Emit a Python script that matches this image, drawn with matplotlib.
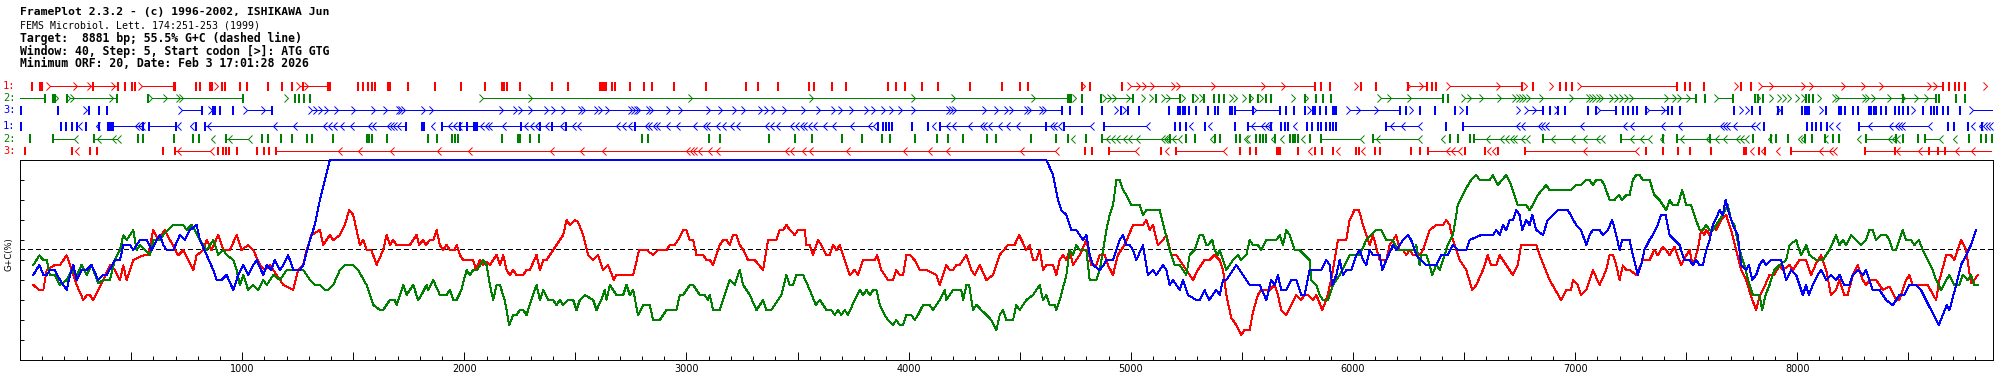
import matplotlib
matplotlib.use("Agg")
import matplotlib.pyplot as plt
from matplotlib.path import Path
from matplotlib.ticker import FixedLocator, MultipleLocator, FuncFormatter

SEQ_LEN = 8881
GC_MEAN = 55.5

header_lines = [
    ("FramePlot 2.3.2 - (c) 1996-2002, ISHIKAWA Jun", "bold", 8.2),
    ("FEMS Microbiol. Lett. 174:251-253 (1999)", "normal", 7.1),
    ("Target:  8881 bp; 55.5% G+C (dashed line)", "bold", 8.3),
    ("Window: 40, Step: 5, Start codon [>]: ATG GTG", "bold", 8.3),
    ("Minimum ORF: 20, Date: Feb 3 17:01:28 2026", "bold", 8.3),
]

# ---- ORF tracks (bp) ----
f1_stops = [53, 88, 95, 101, 329, 441, 473, 504, 518, 691, 698, 792, 808, 853, 862, 909, 923, 990, 1022,
            1116, 1179, 1224, 1274, 1388, 1395, 1521, 1544, 1566, 1584, 1598, 1658, 1665, 1747, 1868, 1985,
            2093, 2169, 2180, 2190, 2250, 2395, 2467, 2610, 2619, 2628, 2637, 2664, 2678, 2745, 2808, 2847,
            2943, 3090, 3267, 3320, 3410, 3552, 3574, 3657, 3720, 3907, 3945, 3983, 4058, 4130, 4275, 4418,
            4500, 4537, 4782, 4815, 4962, 5828, 5858, 5895, 6038, 6105, 6246, 6332, 6357, 6375, 6759, 6809,
            6930, 6960, 6987, 7458, 7493, 7515, 7578, 7748, 7793, 8655, 8685, 8708, 8730, 8757]
f1_starts = [135, 257, 320, 428, 549, 891, 1260, 1296, 4793, 5000, 5040, 5067, 5103, 5198, 5220, 5378, 5603,
             5693, 6021, 6255, 6314, 6435, 6660, 6782, 6899, 7025, 7731, 7839, 7889, 8033, 8069, 8213, 8303,
             8384, 8604, 8631, 8852]
f1_orfs = [(135, 441), (549, 691), (1260, 1388), (5000, 5828), (6255, 6332), (6435, 6759), (7025, 7458),
           (7839, 8655)]

f2_stops = [113, 147, 153, 158, 212, 437, 576, 1004, 1238, 1256, 1278, 1305, 4717, 4725, 4733, 4782, 4868,
            5010, 5115, 5220, 5280, 5329, 5373, 5397, 5418, 5538, 5572, 5607, 5633, 5783, 5835, 5865, 5903,
            6405, 6427, 7545, 7583, 7710, 7810, 7822, 7845, 8040, 8055, 8070, 8475, 8625, 8640, 8715, 8753]
f2_starts = [171, 225, 243, 419, 594, 662, 720, 734, 1206, 2084, 2304, 3024, 3569, 4028, 4208, 4568, 4755,
             4890, 4913, 4935, 4995, 5063, 5099, 5153, 5175, 5243, 5301, 5324, 5459, 5477, 5520, 5550, 5595,
             5738, 5796, 6128, 6173, 6263, 6503, 6533, 6585, 6668, 6735, 6750, 6765, 6780, 6795, 6855, 6990,
             7065, 7080, 7095, 7110, 7125, 7170, 7193, 7215, 7238, 7260, 7418, 7455, 7478, 7515, 7643, 7830,
             7890, 7928, 7950, 7973, 8010, 8033, 8108, 8175, 8190, 8310, 8325, 8348, 8423, 8483, 8543, 8588]
f2_orfs = [(0, 113), (225, 437), (594, 1004), (2084, 4717), (4890, 5010), (5153, 5220), (6128, 6405),
           (6503, 7545), (7643, 7710), (8175, 8625)]

f3_stops = [3, 172, 312, 356, 390, 818, 869, 878, 900, 960, 1133, 4692, 4728, 4782, 4872, 4958, 4987, 5037,
            5172, 5212, 5222, 5234, 5246, 5262, 5295, 5347, 5378, 5392, 5445, 5456, 5468, 5550, 5670, 5697,
            5733, 5783, 5820, 5828, 5850, 5880, 5910, 5918, 5925, 6210, 6240, 6300, 6368, 6458, 6513, 6855,
            6885, 6922, 6953, 7057, 7095, 7185, 7215, 7237, 7260, 7278, 7320, 7418, 7437, 7470, 7713, 7797,
            7830, 7914, 7932, 8022, 8033, 8042, 8052, 8130, 8187, 8199, 8213, 8253, 8272, 8322, 8334, 8345,
            8355, 8377, 8400, 8438, 8457, 8478, 8497, 8565, 8603, 8615, 8628, 8655, 8677, 8733]
f3_starts = [300, 728, 863, 1020, 1103, 1313, 1335, 1358, 1388, 1433, 1508, 1598, 1650, 1710, 1718, 1733,
             1823, 1860, 2175, 2235, 2258, 2303, 2378, 2408, 2453, 2528, 2543, 2603, 2618, 2652, 2753, 2768,
             2783, 2790, 2835, 2850, 2925, 2982, 3105, 3160, 3222, 3263, 3342, 3367, 3398, 3450, 3533, 3600,
             3668, 3698, 3750, 3818, 3848, 3893, 3930, 3968, 4028, 4185, 4200, 4215, 4350, 4403, 4448, 4470,
             4538, 4553, 4605, 4620, 4943, 4977, 5565, 5810, 5985, 6030, 6113, 6270, 6495, 6750, 6788, 6825,
             6923, 7110, 7332, 7403, 7755, 7782, 7920, 8118, 8528, 8790]
f3_orfs = [(728, 818), (1020, 1133), (1313, 4692), (5468, 5550), (5565, 5670), (5985, 6210), (6788, 6855),
           (7110, 7185), (7332, 7418), (8790, 8881)]

r1_stops = [3, 183, 207, 233, 257, 297, 357, 397, 405, 413, 420, 555, 581, 701, 792, 833, 1737, 1808, 1814,
            1818, 1898, 1980, 2010, 2043, 2051, 2058, 2253, 2340, 2393, 2457, 2768, 3862, 3885, 3897, 3911,
            3923, 4013, 4088, 4143, 4620, 4698, 4878, 5198, 5220, 5247, 5333, 5468, 5527, 5633, 5678, 5693,
            5708, 5793, 5817, 5842, 5855, 5877, 5895, 5910, 5925, 6150, 6417, 6495, 7848, 8043, 8065, 8085,
            8108, 8132, 8277, 8677, 8704, 8767, 8832]
r1_starts = [262, 342, 518, 532, 545, 708, 765, 843, 1140, 1230, 1365, 1387, 1410, 1440, 1485, 1567, 1583,
             1650, 1665, 1680, 1695, 1848, 1927, 1950, 1972, 2070, 2093, 2107, 2168, 2268, 2295, 2318, 2363,
             2430, 2483, 2505, 2685, 2708, 2737, 2813, 2827, 2850, 2865, 2910, 2955, 3030, 3075, 3090, 3135,
             3158, 3195, 3225, 3353, 3375, 3405, 3465, 3488, 3510, 3525, 3548, 3570, 3615, 3653, 3735, 3818,
             3840, 4103, 4170, 4193, 4268, 4320, 4335, 4358, 4403, 4440, 4485, 4635, 4650, 4673, 4815, 5070,
             5262, 5348, 5543, 5588, 5603, 5618, 5730, 6165, 6218, 6293, 6735, 6758, 6833, 6848, 6863, 7020,
             7215, 7245, 7388, 7463, 7650, 7665, 7680, 7710, 7793, 7815, 8145, 8175, 8318, 8415, 8438, 8453,
             8468, 8588, 8783, 8820, 8835, 8850, 8865]
r1_orfs = [(420, 545), (581, 701), (833, 1737), (1898, 3840), (4143, 4673), (4698, 4815), (4878, 5070),
           (5527, 5618), (6150, 6293), (6495, 7815), (8277, 8588)]

r2_stops = [45, 150, 334, 530, 552, 693, 777, 806, 927, 1088, 1118, 1173, 1223, 1290, 1313, 1410, 1560, 1571,
            1583, 1650, 1838, 1875, 1943, 1958, 1973, 2168, 2243, 2250, 2295, 2336, 2802, 2825, 3101, 3150,
            3371, 3488, 3565, 3698, 3788, 3878, 3915, 4028, 4128, 4178, 4245, 4353, 4395, 4553, 4662, 4717,
            4797, 4872, 5175, 5250, 5288, 5378, 5400, 5475, 5490, 5565, 5580, 5594, 5607, 5648, 5718, 5729,
            5738, 5752, 5808, 5858, 6090, 6435, 6473, 6528, 6543, 6855, 7208, 7395, 7458, 7605, 7800, 7883,
            7905, 7958, 8033, 8067, 8123, 8160, 8187, 8310, 8445, 8475, 8543, 8577, 8775, 8828, 8850, 8877]
r2_starts = [243, 345, 413, 435, 858, 938, 1028, 4733, 4890, 4913, 4935, 4965, 4988, 5025, 5138, 5148, 5160,
             5184, 5213, 5355, 5508, 5520, 5633, 5670, 5768, 6030, 6102, 6293, 6398, 6600, 6660, 6683, 6705,
             6720, 6758, 6780, 6893, 6983, 7035, 7095, 7118, 7245, 7290, 7328, 7380, 7470, 7590, 7628, 7665,
             7725, 7740, 7763, 7868, 8003, 8018, 8122, 8268, 8410, 8428, 8445, 8640, 8700]
r2_orfs = [(150, 243), (334, 435), (927, 1028), (4872, 5213), (5858, 6030), (6090, 6293), (6543, 6780),
           (6855, 7118), (7208, 7328), (7458, 7763), (8310, 8445), (8577, 8640)]

r3_stops = [23, 235, 315, 348, 645, 698, 892, 915, 927, 942, 978, 1065, 1098, 1122, 1152, 4793, 4827, 4902,
            5138, 5205, 5490, 5535, 5565, 5657, 5666, 5673, 5752, 5828, 5862, 5910, 6015, 6026, 6098, 6120,
            6260, 6300, 6337, 6503, 6593, 6652, 6773, 7320, 7395, 7463, 7515, 7610, 7758, 7770, 7827, 7853,
            7973, 8303, 8438, 8595, 8633, 8663]
r3_starts = [248, 705, 855, 1433, 1523, 1665, 1875, 2018, 2385, 2520, 2618, 3000, 3015, 3030, 3053, 3098,
             3135, 3443, 3465, 3518, 3552, 3720, 3975, 4088, 4170, 4500, 4658, 5018, 5153, 5415, 5798, 5925,
             6038, 6420, 6443, 6473, 6603, 6626, 7035, 7268, 7785, 7838, 7905, 8100, 8145, 8160, 8445, 8543,
             8708, 8783]
r3_orfs = [(698, 855), (1152, 4658), (4902, 5018), (5205, 5415), (6337, 6473), (6773, 7268), (7973, 8160),
           (8303, 8872)]

# ---- G+C curves (bp, %) ----
red_pos = [60, 87, 105, 120, 157, 180, 210, 225, 255, 285, 300, 315, 330, 352, 375, 405, 427, 450, 465, 480,
           510, 555, 577, 600, 622, 652, 675, 712, 735, 780, 795, 825, 840, 862, 892, 915, 945, 975, 997, 1027,
           1050, 1080, 1102, 1125, 1155, 1185, 1230, 1252, 1275, 1290, 1312, 1350, 1365, 1395, 1410, 1440,
           1462, 1482, 1500, 1530, 1545, 1560, 1582, 1605, 1635, 1650, 1665, 1680, 1695, 1710,
           1755, 1785, 1797, 1815, 1827, 1845, 1860, 1875, 1890, 1905, 1920, 1935, 1957, 1965, 1980, 1995,
           2040, 2052, 2070, 2085, 2100, 2115, 2145, 2160, 2175, 2190, 2205, 2220, 2235, 2265, 2280, 2295,
           2325, 2340, 2355, 2370, 2415, 2445, 2460, 2475, 2497, 2512, 2535, 2557, 2580, 2602, 2625, 2647,
           2673, 2685, 2760, 2787, 2820, 2850, 2872, 2910, 2925, 2947, 2962, 2985, 3000, 3015, 3030, 3045,
           3075, 3090, 3105, 3120, 3150, 3165, 3180, 3195, 3210, 3225, 3240, 3255, 3277, 3307, 3345, 3367,
           3405, 3420, 3435, 3450, 3465, 3487, 3502, 3532, 3540, 3555,
           3570, 3592, 3607, 3630, 3645, 3660, 3675, 3690, 3705, 3735, 3757, 3772, 3795, 3847, 3858, 3877,
           3907, 3930, 3945, 3960, 3975, 3990, 4005, 4027, 4050, 4080, 4125, 4140, 4170, 4185, 4200, 4215,
           4230, 4260, 4282, 4297, 4320, 4350, 4380, 4410, 4447, 4477, 4497, 4530, 4545, 4560, 4575, 4590,
           4605, 4620, 4650, 4665, 4680, 4695, 4710, 4725, 4740, 4770, 4800, 4822, 4845, 4860, 4882, 4897,
           4920, 4942, 4972, 5010, 5055, 5070, 5085, 5100, 5122, 5145, 5160, 5182, 5205, 5250, 5280, 5302, 5332,
           5355, 5377, 5400, 5415, 5430, 5452, 5475, 5497, 5512, 5535, 5550, 5572, 5587, 5625, 5647, 5662,
           5677, 5700, 5722, 5745, 5767, 5782, 5797, 5820, 5835, 5862, 5887, 5910, 5932, 5970, 5985, 6007,
           6027, 6045, 6067, 6075, 6090, 6120, 6150, 6165, 6195, 6210, 6225, 6240, 6255, 6270, 6300, 6315,
           6345, 6375, 6405, 6420, 6435, 6450, 6480, 6510, 6537, 6555, 6585, 6607, 6622, 6645, 6660, 6690,
           6720, 6742, 6757, 6825, 6840, 6885, 6937, 6960, 6982, 6990, 7012, 7027, 7050, 7080, 7110, 7140,
           7155, 7170,
           7185, 7200, 7215, 7230, 7245, 7275, 7305, 7335, 7357, 7372, 7395, 7410, 7425, 7447, 7477, 7500,
           7515, 7530, 7552, 7567, 7582, 7590, 7605, 7620, 7635, 7657, 7680, 7702, 7725, 7747, 7770, 7792,
           7815, 7830, 7852, 7875, 7897, 7920, 7935, 7965, 7980, 8010, 8040, 8062, 8085, 8107, 8130, 8152,
           8175, 8190, 8212, 8227, 8250, 8272, 8295, 8310, 8325, 8355, 8385, 8415, 8445, 8460, 8490, 8505,
           8520, 8587, 8625, 8640, 8670, 8692, 8707, 8737, 8760, 8782, 8797, 8812]
red_gc = [37.5, 35, 35, 45, 47.5, 47.5, 52.3, 47.5, 37.5, 30, 32.3, 32.3, 30, 35, 40, 47.3, 45, 40, 47.3, 40,
          50, 52.3, 52.3, 65, 60, 65, 60, 52.3, 55, 45, 52.3, 55, 60, 55, 62.5, 55, 55, 62.5, 55, 57.5,
          55, 47.5, 45, 47.5, 42.5, 37.5, 35, 45, 47.5, 55, 62.5, 65, 57.5, 62.5, 60, 62.5,
          67.5, 75, 72.5, 57.5, 60, 55, 55, 47.5, 55, 62.5, 57.5, 60, 57.5, 57.5,
          57.5, 62.5, 57.5, 60, 57.5, 60, 60, 65, 57.5, 55, 57.5, 55, 55, 57.5, 52.5, 50,
          50, 45, 50, 47.5, 49, 47.5, 52.5, 47.5, 52.5, 45, 42.5, 45, 42.5, 42.5, 45, 45,
          52.5, 45, 50, 50, 57.5, 62.5, 70, 67.5, 70, 69, 62.5, 52.5, 50, 52.5, 45, 47.5,
          40, 42.5, 42.5, 55, 55, 52.5, 55, 55, 57.5, 57.5, 60, 65, 65, 60, 60, 52.5,
          52.5, 50, 50, 47.5, 57.5, 60, 60, 57.5, 62.5, 62.5, 57.5, 55, 50, 50, 45, 60,
          60, 65, 65, 67.5, 65, 62.5, 65, 65, 57.5, 57.5,
          52.5, 60, 57.5, 52.5, 52.5, 57.5, 55, 57.5, 52.5, 42.5, 45, 42.5, 50, 50, 52.5, 45,
          40, 40, 45, 42.5, 42.5, 52.5, 52.5, 50, 45, 45, 42.5, 37.5, 47.5, 45, 45, 47.5,
          47.5, 52.5, 45, 42.5, 47.5, 40, 42.5, 52.5, 57.5, 57.5, 62.5, 55, 57.5, 50, 50, 55,
          45, 47.5, 47.5, 42.5, 50, 52.5, 50, 55, 47.5, 52.5, 60, 47.5, 47.5, 52.5, 52.5, 47.5,
          42.5, 52.5, 57.5, 67.5, 67.5, 70, 65, 67.5, 57.5, 60, 62.5, 52.5, 52.5, 45, 40, 45, 50,
          50, 52.5, 50, 45, 32.5, 21, 17.5, 12.5, 15, 15, 24, 32.5, 35, 35, 37.5, 32.5,
          25, 22.5, 27.5, 32.5, 30, 32.5, 32.5, 30, 32.5, 25, 32.5, 45, 60, 60, 70, 75,
          75, 67.5, 60, 57.5, 62.5, 50, 50, 57.5, 62.5, 55, 55, 52.5, 55, 52.5, 52.5, 55,
          65, 67.5, 67.5, 70, 67.5, 60, 50, 45, 35, 37.5, 45, 52.5, 47.5, 47.5, 52.5, 47.5,
          42.5, 47.5, 57.5, 57.5, 52.5, 40, 30, 35, 35, 40, 37.5, 32.5, 35, 45, 37.5, 45,
          52.5, 52.5,
          47.5, 40, 47.3, 45, 45, 42.5, 50, 50, 55, 52.3, 56.7, 55, 52.3, 56.7, 47.3, 52.3,
          55, 47.3, 55, 65, 62.5, 65, 62.5, 67.5, 65, 70, 72.5, 65, 55, 45, 40, 31.7,
          25, 31.7, 36.7, 42.5, 42.5, 47.5, 45, 47.5, 45, 50, 50, 42.5, 48.3, 52.3, 45, 32.5,
          35, 40, 32.5, 32.5, 42.5, 47.5, 40, 37.5, 40, 40, 35, 36.7, 30, 30, 40, 42.5,
          37.5, 37.5, 30, 40, 52.3, 52.3, 50, 60, 55, 38.3, 40, 42.5]

green_pos = [60, 87, 105, 120, 135, 157, 180, 210, 232, 255, 277, 300, 322, 352, 375, 405, 427, 450, 465, 480,
             495, 510, 525, 540, 562, 585, 600, 630, 645, 690, 735, 750, 772, 787, 810, 840, 870, 892, 915,
             930, 960, 975, 990, 1005, 1027, 1050, 1072, 1095, 1110, 1140, 1170, 1200, 1245, 1275, 1305,
             1327, 1350, 1372, 1387, 1410, 1440, 1462, 1500, 1522, 1560, 1590, 1620, 1635, 1665, 1687, 1695,
             1725, 1740, 1770, 1792, 1807, 1830, 1837, 1860, 1890, 1920, 1935, 1950, 1965, 1987, 2010, 2025,
             2040, 2058, 2085, 2100, 2115, 2130, 2145, 2160, 2182, 2202, 2220, 2235, 2250, 2265, 2280, 2302,
             2325, 2340, 2355, 2377, 2400, 2415, 2430, 2445, 2467, 2490, 2505, 2520, 2542, 2580, 2595, 2617,
             2632, 2640, 2655, 2685, 2715, 2730, 2745, 2760, 2782, 2805, 2835, 2850, 2880, 2910, 2955, 2970,
             2985, 3015, 3030, 3060, 3082, 3097, 3105, 3120, 3150, 3165, 3195, 3217, 3240, 3255, 3285, 3315,
             3345, 3360, 3382, 3427, 3450, 3465, 3480, 3495, 3525,
             3555, 3582, 3600, 3630, 3652, 3667, 3682, 3697, 3712, 3727, 3757, 3780, 3795, 3810, 3825, 3840,
             3855, 3870, 3892, 3907, 3930, 3945, 3960, 3975, 3990, 4012, 4027, 4042, 4065, 4095, 4110, 4140,
             4162, 4170, 4200, 4237, 4245, 4260, 4272, 4290, 4305, 4327, 4350, 4372, 4395, 4410, 4425, 4440,
             4470, 4485, 4500, 4530, 4560, 4590, 4605, 4620, 4635, 4657, 4665, 4680, 4710, 4725, 4740, 4755,
             4770, 4800, 4815, 4845, 4860, 4875, 4890, 4905, 4920, 4935, 4950, 4965, 4980, 5002, 5040, 5055,
             5070, 5130, 5152, 5175, 5197, 5220, 5250, 5265, 5287, 5310, 5325, 5340,
             5347, 5367, 5377, 5392, 5400, 5430, 5460, 5482, 5497, 5520, 5535, 5550, 5572, 5587, 5610, 5655,
             5670, 5685, 5700, 5715, 5737, 5760, 5782, 5805, 5812, 5835, 5850, 5865, 5887, 5910, 5940, 5985,
             6007, 6030, 6060, 6082, 6105, 6127, 6150, 6180, 6202, 6232, 6270, 6285, 6300, 6307, 6330, 6345,
             6357, 6375, 6390, 6412, 6427, 6450, 6472, 6510, 6532, 6555, 6570, 6615, 6630, 6652, 6690, 6712,
             6742, 6780, 6795, 6810, 6832, 6870, 6885, 6982, 7005, 7027, 7050, 7065, 7080, 7095, 7117, 7132,
             7155, 7177,
             7197, 7212, 7230, 7245, 7260, 7275, 7290, 7305, 7335, 7357, 7380, 7410, 7425, 7440, 7462, 7482,
             7500, 7522, 7537, 7560, 7575, 7590, 7605, 7620, 7635, 7650, 7665, 7687, 7702, 7717, 7740, 7762,
             7785, 7800, 7830, 7842, 7857, 7875, 7897, 7920, 7950, 7965, 7995, 8017, 8040, 8055, 8085, 8115,
             8145, 8175, 8190, 8205, 8220, 8242, 8265, 8287, 8310, 8325, 8340, 8355, 8377, 8400, 8415, 8430,
             8445, 8475, 8490, 8512, 8527, 8547, 8565, 8587, 8610, 8625, 8647, 8670, 8685, 8707, 8730, 8745,
             8767, 8782, 8797, 8812]
green_gc = [47.5, 52.3, 50, 50, 42.3, 42.3, 37.5, 40, 45, 42.5, 47.5, 42.5, 47.5, 38.3, 40, 40, 50, 55, 62.3, 60,
            62.5, 65, 55, 57.5, 55, 52.5, 60, 60, 62.5, 67.5, 67.5, 65, 67.5, 65, 60, 55, 60, 52.5, 55,
            52.5, 50, 45, 37.5, 42.5, 35, 37.5, 35, 40, 37.5, 42.5, 40, 45, 45, 45, 40,
            37.5, 37.5, 35, 35, 37.5, 45, 47.5, 47.5, 45, 37.5, 27.5, 25, 25, 30, 30, 27.5,
            37.5, 32.5, 37.5, 30, 32.5, 37.5, 35, 40, 32.5, 32.5, 35, 30, 30, 35, 45, 42.5,
            45, 45, 50, 47.5, 37.5, 30, 37.5, 37.5, 30, 17.5, 22.5, 22.5, 25, 25, 22.5, 30,
            37.5, 30, 35, 30, 30, 27.5, 30, 27.5, 30, 30, 25, 30, 32.5, 30, 25, 30,
            35, 30, 37.5, 32.5, 32.5, 37.5, 32.5, 35, 22.5, 27.5, 27.5, 20, 20, 25, 25, 32.5,
            32.5, 37.5, 37.5, 32.5, 32.5, 30, 32.5, 25, 25, 30, 40, 37.5, 45, 37.5, 32.5, 25,
            30, 25, 25, 32.5, 42.5, 37.5, 37.5, 42.5, 42.5,
            35, 27.5, 30, 25, 25, 22.5, 25, 22.5, 25, 22.5, 30, 35, 32.5, 35, 32.5, 35,
            35, 27.5, 22.5, 20, 17.5, 20, 17.5, 17.5, 22.5, 22.5, 20, 22.5, 27.5, 27.5, 25, 30,
            35, 30, 35, 35, 30, 37.5, 37.5, 25, 27.5, 25, 22.5, 20, 15, 22.5, 25, 20,
            20, 27.5, 25, 30, 32.5, 37.5, 30, 32.5, 27.5, 27.5, 25, 30, 42.5, 55, 52.5, 57.5,
            55, 55, 40, 40, 45, 55, 65, 72.5, 77.5, 90, 90, 85, 82.5, 77.5, 77.5, 72.5,
            75, 75, 65, 55, 47.5, 47.5, 42.5, 52.5, 55, 62.5, 62.5, 57.5,
            57.5, 60, 55, 52.5, 55, 45, 50, 52.5, 50, 52.5, 60, 57.5, 57.5, 55, 60, 60,
            62.5, 57.5, 65, 62.5, 55, 55, 52.5, 50, 40, 37.5, 32.5, 30, 30, 37.5, 42.5, 52.5,
            52.5, 52.5, 60, 62.5, 65, 65, 60, 60, 55, 55, 55, 57.5, 47.5, 52.5, 52.5, 47.5,
            42.5, 47.5, 45, 52.5, 57.5, 62.5, 77.5, 86, 90, 92.5, 90, 90, 92.5, 87.5, 92.5, 87.5,
            77.5, 77.5, 75, 77.5, 82.5, 87.5, 85, 85, 87.5, 87.5, 90, 90, 87.5, 90, 90, 87.5,
            80, 80,
            82.5, 80, 82.5, 82.5, 90, 92.5, 92.5, 90, 90, 82.5, 80, 75, 80, 77.5, 77.5, 85,
            77.5, 77.5, 72.5, 65, 65, 67.5, 65, 65, 67.5, 70, 72.5, 77.5, 70, 67.5, 55, 47.5,
            37.5, 32.5, 32.5, 25, 32.5, 37.5, 45, 47.5, 50, 57.5, 60, 52.5, 57.5, 52.5, 50, 50,
            55, 62.5, 57.5, 60, 57.5, 62.5, 60, 57.5, 60, 65, 65, 60, 62.5, 62.5, 60, 55,
            55, 65, 60, 60, 57.5, 60, 55, 50, 45, 40, 35, 40, 42.5, 37.5, 37.5, 42.5,
            40, 42.5, 37.5, 37.5]

blue_pos = [60, 87, 105, 120, 135, 157, 180, 210, 225, 240, 255, 277, 300, 322, 352, 375, 390, 427, 450, 465,
            495, 510, 540, 570, 592, 615, 630, 645, 660, 690, 720, 742, 765, 795, 810, 840, 870, 885, 907,
            930, 960, 982, 1005, 1027, 1050, 1065, 1095, 1110, 1132, 1147, 1170, 1185, 1207, 1230, 1260,
            1275, 1305, 1327, 1350, 1372, 1395, 4620,
            4650, 4672, 4687, 4710, 4732, 4755, 4785, 4800, 4815, 4830, 4860, 4878, 4890, 4920, 4935, 4950,
            4965, 4980, 4995, 5010, 5025, 5055, 5077, 5100, 5115, 5145, 5160, 5175, 5190, 5220, 5235, 5257,
            5295, 5310, 5332, 5352, 5385, 5400,
            5415, 5430, 5475, 5505, 5535, 5580, 5610, 5632, 5647, 5662, 5677, 5700, 5722, 5745, 5767, 5782,
            5805, 5827, 5857, 5880, 5895, 5907, 5925, 5940, 5955, 5970, 5992, 6015, 6030, 6045, 6060, 6075,
            6090, 6120, 6132, 6150, 6180, 6195, 6210, 6225, 6247, 6262, 6285, 6307, 6330, 6375, 6397, 6427,
            6450, 6472, 6510, 6525, 6577, 6630, 6645, 6660, 6675, 6690, 6705, 6720, 6735, 6750, 6762, 6780,
            6795, 6807, 6825, 6855, 6877, 6900, 6922, 6945, 6967, 7005, 7027, 7050, 7065, 7080, 7110, 7125,
            7147, 7167, 7185, 7200,
            7212, 7245, 7260, 7282, 7297, 7312, 7335, 7350, 7372, 7387, 7407, 7425, 7447, 7470, 7492, 7515,
            7530, 7545, 7560, 7575, 7590, 7605, 7620, 7642, 7650, 7665, 7677, 7695, 7710, 7732, 7747, 7770,
            7782, 7797, 7815, 7830, 7845, 7860, 7882, 7927, 7950, 7972, 7995, 8010, 8025, 8040, 8052, 8070,
            8092, 8107, 8130, 8152, 8175, 8190, 8212, 8235, 8250, 8272, 8295, 8310, 8325, 8340, 8370, 8400,
            8430, 8445, 8460, 8482, 8505, 8535, 8557, 8587, 8610, 8637, 8655, 8673, 8685, 8715, 8737, 8760,
            8782, 8805]
blue_gc = [42.5, 47.5, 42.5, 42.5, 45, 45, 40, 35, 42.5, 47.5, 40, 45, 45, 47.5, 40, 42.5, 42.5, 50, 50, 57.5,
           57.5, 55, 60, 60, 55, 60, 62.5, 57.5, 55, 55, 62.5, 60, 65, 67.5, 60, 52.5, 45, 40, 40,
           42.5, 35, 42.5, 47.5, 42.5, 47.5, 50, 42.5, 47.5, 45, 50, 45, 47.5, 52.5, 45, 45,
           47.5, 60, 67.5, 80, 90, 100, 100,
           92.5, 80, 75, 72.5, 65, 65, 60, 62.5, 52.5, 47.5, 45, 47.5, 50, 50, 55, 60,
           62.5, 57.5, 57.5, 55, 50, 57.5, 42.5, 45, 42.5, 47.5, 45, 37.5, 40, 35, 40, 32.5,
           30, 30, 35, 30, 35, 32.5,
           40, 40, 47.5, 42.5, 37.5, 37.5, 30, 40, 37.5, 42.5, 35, 35, 40, 40, 32.5, 32.5,
           45, 45, 45, 50, 47.5, 37.5, 42.5, 50, 42.5, 45, 45, 52.5, 55, 50, 47.5, 55,
           52.5, 52.5, 45, 50, 57.5, 55, 57.5, 60, 62.5, 60, 52.5, 50, 47.5, 47.5, 52.5, 52.5,
           57.5, 55, 55, 60, 62.5, 62.5, 65, 62.5, 67.5, 65, 70, 70, 75, 72.5, 65, 70,
           67.5, 72.5, 65, 62.5, 70, 72.5, 75, 75, 75, 67.5, 65, 57.5, 62.5, 65, 65, 62.5,
           65, 70, 62.5, 55,
           60, 60, 52.5, 42.5, 47.5, 55, 60, 62.5, 67.5, 72.5, 72.5, 62.5, 60, 57.5, 50, 50,
           47.5, 50, 47.5, 47.5, 55, 60, 67.5, 72.5, 75, 72.5, 80, 72.5, 67.5, 62.5, 47.5, 45,
           47.5, 40, 42.5, 47.5, 50, 47.5, 50, 50, 40, 45, 42.5, 37.5, 32.5, 37.5, 32.5, 37.5,
           42.5, 45, 40, 42.5, 40, 42.5, 37.5, 37.5, 42.5, 45, 42.5, 45, 40, 35, 35, 30,
           27.5, 30, 32.5, 32.5, 37.5, 37.5, 35, 28.3, 23.3, 17.5, 22.5, 27.5, 25, 37.5, 47.5, 52.5,
           57.5, 65]

RED, GREEN, BLUE = "#ff0000", "#008000", "#0000ff"

W, H = 2013, 380
fig = plt.figure(figsize=(W / 100, H / 100), dpi=100)
fig.patch.set_facecolor("white")

mono = "DejaVu Sans Mono"
THIN = 0.7  # ~1 px

# header
for (txt, wt, fs), yc in zip(header_lines, [12, 25, 38, 51.5, 63.5]):
    fig.text(20 / W, 1 - yc / H, txt, family=mono, weight=wt, fontsize=fs, va="center", ha="left")

# ORF track axes (y in pixel rows)
axt = fig.add_axes([20 / W, (H - 160) / H, 1973 / W, 82 / H])
axt.set_xlim(0, SEQ_LEN)
axt.set_ylim(160, 78)
axt.axis("off")

right_chev = Path([(-1, 1), (0, 0), (-1, -1)], [Path.MOVETO, Path.LINETO, Path.LINETO])
left_chev = Path([(1, 1), (0, 0), (1, -1)], [Path.MOVETO, Path.LINETO, Path.LINETO])

tracks = [
    ("1:", RED, f1_stops, f1_starts, f1_orfs, False, 86.2),
    ("2:", GREEN, f2_stops, f2_starts, f2_orfs, False, 98.2),
    ("3:", BLUE, f3_stops, f3_starts, f3_orfs, False, 110.4),
    ("1:", BLUE, r1_stops, r1_starts, r1_orfs, True, 126.2),
    ("2:", GREEN, r2_stops, r2_starts, r2_orfs, True, 138.6),
    ("3:", RED, r3_stops, r3_starts, r3_orfs, True, 150.8),
]
for label, col, stops, starts, orfs, rev, yc in tracks:
    axt.hlines([yc] * len(orfs), [a for a, b in orfs], [b for a, b in orfs], color=col, lw=THIN,
               antialiased=False)
    axt.vlines(stops, yc - 4.3, yc + 4.3, color=col, lw=1.3, antialiased=False)
    axt.plot(starts, [yc] * len(starts), ls="none", marker=left_chev if rev else right_chev, ms=5.8,
             mfc="none", mec=col, mew=THIN, antialiased=False)
    fig.text(3 / W, 1 - yc / H, label, color=col, family=mono, fontsize=7.5, va="center", ha="left")

# G+C plot
ax = fig.add_axes([20 / W, 20 / H, 1973 / W, 200 / H])
ax.set_xlim(0, SEQ_LEN)
ax.set_ylim(0, 100)
for s in ax.spines.values():
    s.set_linewidth(THIN)

ax.axhline(GC_MEAN, color="black", lw=THIN, dashes=(4.2, 3.2), antialiased=False)
for pos, gc, col in [(red_pos, red_gc, RED), (green_pos, green_gc, GREEN), (blue_pos, blue_gc, BLUE)]:
    ax.plot(pos, gc, color=col, lw=THIN, antialiased=False, clip_on=False, zorder=3)

ax.xaxis.set_major_locator(FixedLocator(list(range(500, SEQ_LEN, 500))))
ax.xaxis.set_minor_locator(MultipleLocator(100))
ax.xaxis.set_major_formatter(FuncFormatter(lambda v, p: f"{int(v)}" if int(v) % 1000 == 0 else ""))
ax.tick_params(axis="x", which="major", direction="in", length=5.8, width=THIN, labelsize=7, pad=3)
ax.tick_params(axis="x", which="minor", direction="in", length=2.9, width=THIN)
ax.yaxis.set_major_locator(FixedLocator(list(range(10, 100, 10))))
ax.yaxis.set_minor_locator(FixedLocator([]))
ax.tick_params(axis="y", which="major", direction="in", length=2.9, width=THIN, labelleft=False)

fig.text(9.3 / W, 1 - 253.7 / H, "G+C(%)", rotation=90, fontsize=6, va="center", ha="center")

fig.savefig("out.png", dpi=100)
